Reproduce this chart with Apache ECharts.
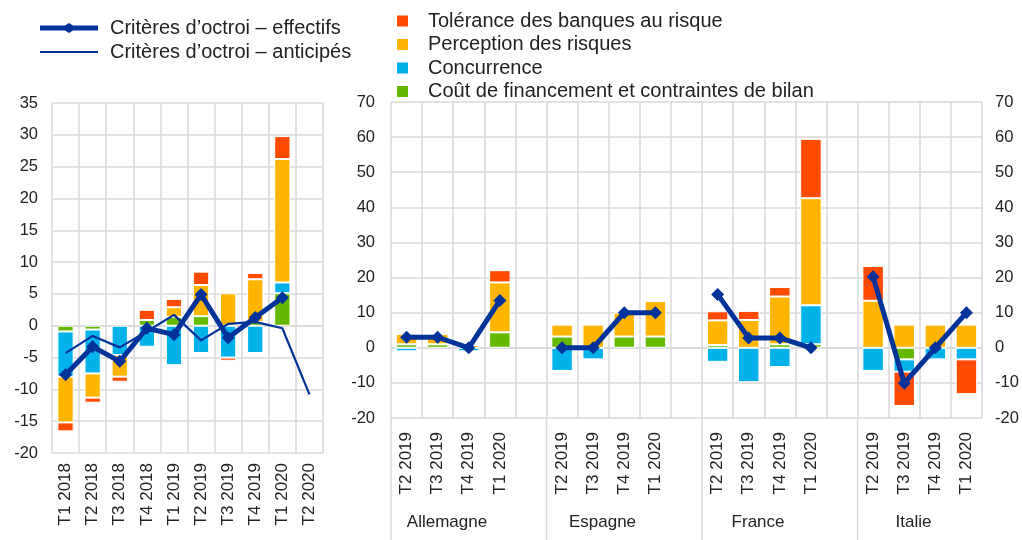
<!DOCTYPE html>
<html><head><meta charset="utf-8">
<script src="https://cdn.jsdelivr.net/npm/echarts@6/dist/echarts.min.js"></script>
<style>html,body{margin:0;padding:0;background:#fff}#c{width:1022px;height:540px}</style>
</head><body><div id="c"></div>
<script>
// ---- Left panel (euro area) ----
const leftCategories = ['T1 2018','T2 2018','T3 2018','T4 2018','T1 2019','T2 2019','T3 2019','T4 2019','T1 2020','T2 2020'];
const leftCost       = [-0.9, -0.6, null, 0.9, 1.4, 1.5, null, 0.6, 5.1, null];
const leftCompet     = [-7.1, -6.9, -4.6, -3.3, -6.2, -4.3, -5.0, -4.3, 1.7, null];
const leftPercep     = [-7.2, -3.8, -3.4, null, 1.5, 4.9, 5.1, 6.7, 19.4, null];
const leftToler      = [-1.4, -0.8, -0.8, 1.6, 1.3, 2.1, -0.5, 1.0, 3.6, null];
const leftEffective  = [-7.7, -3.3, -5.6, -0.4, -1.4, 4.9, -1.9, 1.3, 4.4, null];
const leftExpected   = [-4.3, -1.6, -3.4, -0.9, 1.7, -2.3, 0.3, 0.6, -0.4, -10.8];
const leftTicks = {min: -20, max: 35, interval: 5};

// ---- Right panel (countries), '-' = spacer slot ----
const rightCategories = ['T2 2019','T3 2019','T4 2019','T1 2020','',
                         'T2 2019','T3 2019','T4 2019','T1 2020','',
                         'T2 2019','T3 2019','T4 2019','T1 2020','',
                         'T2 2019','T3 2019','T4 2019','T1 2020'];
const groupNames = ['Allemagne','Espagne','France','Italie'];
const groupStarts = [0, 5, 10, 15];
const rightCost      = [1.0, 1.0, null, 4.4, '-', 3.2, null, 3.2, 3.2, '-', 0.8, null, 1.0, 1.0, '-', null, -3.3, null, null];
const rightCompet    = [-1.0, null, -1.0, null, '-', -6.6, -3.3, null, null, '-', -4.0, -9.8, -5.5, 11.1, '-', -6.6, -3.5, -3.3, -3.3];
const rightPercep    = [2.9, 2.9, 0.8, 14.2, '-', 3.4, 6.6, 6.8, 10.1, '-', 7.0, 7.9, 13.6, 30.5, '-', 13.4, 6.6, 6.6, 6.6];
const rightToler     = [null, null, null, 3.5, '-', null, null, null, null, '-', 2.6, 2.6, 2.7, 16.9, '-', 9.9, -9.8, null, -9.9];
const rightEffective = [3, 3, 0, 13.5, '-', 0, 0, 10, 10, '-', 15.2, 2.8, 2.8, 0, '-', 20.2, -10.1, 0, 10];
const rightTicks = {min: -20, max: 70, interval: 10};

const NAME_EFF = 'Critères d’octroi – effectifs';
const NAME_EXP = 'Critères d’octroi – anticipés';
const NAME_TOL = 'Tolérance des banques au risque';
const NAME_PER = 'Perception des risques';
const NAME_CON = 'Concurrence';
const NAME_COST = 'Coût de financement et contraintes de bilan';

const C_BLUE = '#003299', C_RED = '#FF4B00', C_YEL = '#FFB400', C_CYAN = '#00B1EA', C_GREEN = '#65B800';
const FONT = 'Liberation Sans, Arial, sans-serif';
const TXT = '#222';
const GRIDC = '#d9d9d9';

const chart = echarts.init(document.getElementById('c'), null, {renderer: 'canvas'});

function barSeries(name, data, color, idx, stack, width) {
  return {
    name, type: 'bar', data, stack, xAxisIndex: idx, yAxisIndex: idx === 0 ? 0 : 1,
    barWidth: width, itemStyle: {color, borderColor: '#fff', borderWidth: 1},
    emphasis: {disabled: true}
  };
}
function catAxis(idx, data, margin) {
  return {
    type: 'category', gridIndex: idx, data,
    axisLine: {show: true, lineStyle: {color: GRIDC, width: 1.5}},
    axisTick: {show: false},
    splitLine: {show: true, lineStyle: {color: GRIDC, width: 1.5}},
    axisLabel: {rotate: 90, interval: 0, fontSize: 17, fontFamily: FONT, color: TXT, margin}
  };
}
function valAxis(idx, ticks, pos, margin, split) {
  return Object.assign({
    type: 'value', gridIndex: idx, position: pos,
    axisLine: {show: false}, axisTick: {show: false},
    splitLine: {show: split, lineStyle: {color: GRIDC, width: 1.5}},
    axisLabel: {fontSize: 16.5, fontFamily: FONT, color: TXT, margin}
  }, ticks);
}

const option = {
  animation: false,
  backgroundColor: '#fff',
  legend: [
    {
      orient: 'vertical', left: 35, top: 13, itemWidth: 58, itemHeight: 14, itemGap: 4,
      symbolKeepAspect: true,
      data: [
        {name: NAME_EFF, icon: 'path://M0,2.5H25L29,0L33,2.5H58V7.5H33L29,10L25,7.5H0Z', itemStyle: {color: C_BLUE}},
        {name: NAME_EXP, icon: 'path://M0,0H58V2.2H0Z', itemStyle: {color: C_BLUE}}
      ],
      textStyle: {fontSize: 20, fontFamily: FONT, color: TXT, lineHeight: 20, padding: [0, 0, 0, 7]}
    },
    {
      orient: 'vertical', left: 392, top: 6, itemWidth: 11, itemHeight: 11, itemGap: 3.5, icon: 'rect',
      data: [NAME_TOL, NAME_PER, NAME_CON, NAME_COST],
      itemStyle: {borderWidth: 0},
      textStyle: {fontSize: 20, fontFamily: FONT, color: TXT, lineHeight: 20, padding: [0, 0, 0, 15]}
    }
  ],
  grid: [
    {left: 52, top: 103, width: 271, height: 350},
    {left: 391, top: 102, width: 591, height: 316}
  ],
  xAxis: [catAxis(0, leftCategories, 10), catAxis(1, rightCategories, 14)],
  yAxis: [
    valAxis(0, leftTicks, 'left', 14, true),
    valAxis(1, rightTicks, 'left', 16, true),
    valAxis(1, rightTicks, 'right', 13, false)
  ],
  series: [
    barSeries(NAME_COST, leftCost, C_GREEN, 0, 'L', '60%'),
    barSeries(NAME_CON, leftCompet, C_CYAN, 0, 'L', '60%'),
    barSeries(NAME_PER, leftPercep, C_YEL, 0, 'L', '60%'),
    barSeries(NAME_TOL, leftToler, C_RED, 0, 'L', '60%'),
    barSeries(NAME_COST, rightCost, C_GREEN, 1, 'R', '69%'),
    barSeries(NAME_CON, rightCompet, C_CYAN, 1, 'R', '69%'),
    barSeries(NAME_PER, rightPercep, C_YEL, 1, 'R', '69%'),
    barSeries(NAME_TOL, rightToler, C_RED, 1, 'R', '69%'),
    {
      name: NAME_EXP, type: 'line', data: leftExpected, xAxisIndex: 0, yAxisIndex: 0,
      symbol: 'none', lineStyle: {color: C_BLUE, width: 2.2}, itemStyle: {color: C_BLUE}, z: 5,
      emphasis: {disabled: true}
    },
    {
      name: NAME_EFF, type: 'line', data: leftEffective, xAxisIndex: 0, yAxisIndex: 0,
      symbol: 'diamond', symbolSize: 13, lineStyle: {color: C_BLUE, width: 5}, itemStyle: {color: C_BLUE}, z: 6,
      emphasis: {disabled: true}
    },
    {
      name: NAME_EFF, type: 'line', data: rightEffective, xAxisIndex: 1, yAxisIndex: 1,
      symbol: 'diamond', symbolSize: 13, lineStyle: {color: C_BLUE, width: 5}, itemStyle: {color: C_BLUE}, z: 6,
      connectNulls: false, emphasis: {disabled: true}
    }
  ]
};
chart.setOption(option);

// group separators & group names, positioned from the axis scale
const p0 = chart.convertToPixel({xAxisIndex: 1}, 0);
const p1 = chart.convertToPixel({xAxisIndex: 1}, 1);
const slot = p1 - p0;
const gridBottom = chart.convertToPixel({yAxisIndex: 1}, rightTicks.min);
const graphics = [];
groupStarts.forEach((s, i) => {
  const start = chart.convertToPixel({xAxisIndex: 1}, s) - slot / 2;
  graphics.push({type: 'line', shape: {x1: start, y1: gridBottom, x2: start, y2: 540},
    style: {stroke: GRIDC, lineWidth: 1.5}, silent: true});
  graphics.push({type: 'text', x: start + slot * 1.8, y: 522,
    style: {text: groupNames[i], fontSize: 17, fontFamily: FONT, fill: TXT, align: 'center', verticalAlign: 'middle'},
    silent: true});
});
chart.setOption({graphic: graphics});
</script></body></html>
